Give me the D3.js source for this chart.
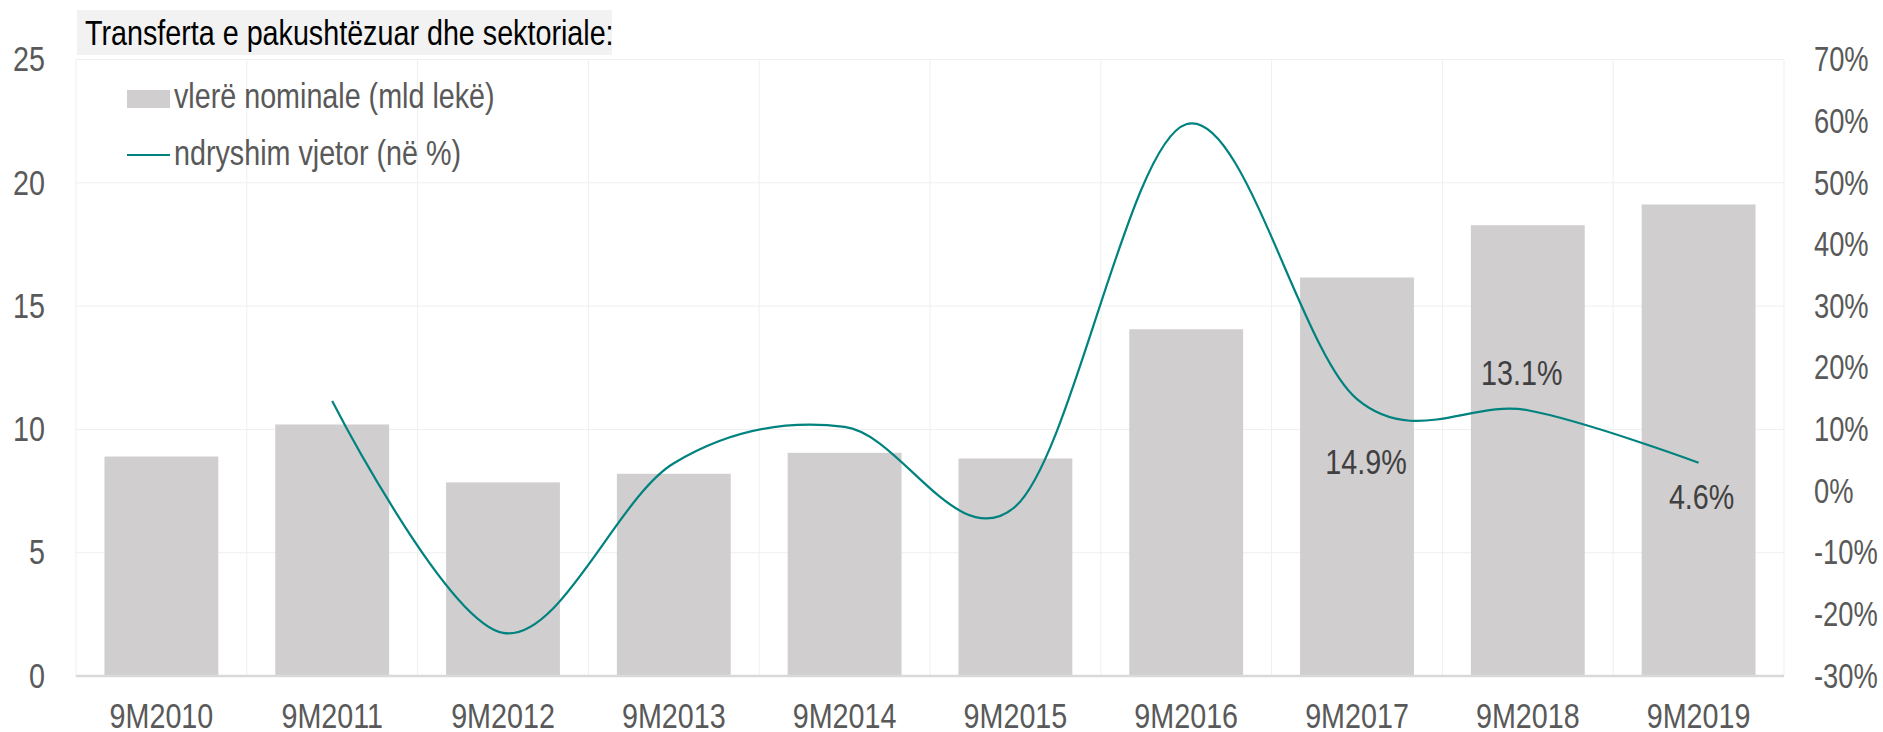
<!DOCTYPE html>
<html>
<head>
<meta charset="utf-8">
<script src="https://cdn.jsdelivr.net/npm/d3@7"></script>
<style>
  body { margin: 0; background: #fff; }
  svg text { font-family: "Liberation Sans", Arial, sans-serif; font-size: 35px; }
</style>
</head>
<body>
<svg id="chart" width="1883" height="732"></svg>
<script>
const categories = ["9M2010", "9M2011", "9M2012", "9M2013", "9M2014", "9M2015", "9M2016", "9M2017", "9M2018", "9M2019"];
const nominal = [8.9, 10.2, 7.85, 8.2, 9.05, 8.82, 14.06, 16.16, 18.28, 19.12];
// annual change (%), starts at 9M2011
const change = [null, 14.6, -23.0, 4.5, 10.4, -2.5, 59.5, 14.9, 13.1, 4.6];
const leftTicks = [0, 5, 10, 15, 20, 25];
const rightTicks = [-30, -20, -10, 0, 10, 20, 30, 40, 50, 60, 70];
const labelled = ["9M2017", "9M2018", "9M2019"];

const svg = d3.select("#chart");
const plotLeft = 76, plotRight = 1784, plotTop = 59.5, plotBottom = 676;

// no narrow font installed: squeeze Liberation Sans to Arial Narrow width
const narrow = (sel, k = 0.82) => sel.each(function () {
    const w = this.getComputedTextLength();
    this.setAttribute("textLength", w * k);
    this.setAttribute("lengthAdjust", "spacingAndGlyphs");
});

const x = d3.scaleBand()
    .domain(categories)
    .range([plotLeft, plotRight])
    .paddingInner(1 / 3)
    .paddingOuter(1 / 6);
const step = x.step();

const y = d3.scaleLinear().domain([0, 25]).range([plotBottom, plotTop]);
const y2 = d3.scaleLinear().domain([-30, 70]).range([plotBottom, plotTop]);

// grid
const grid = svg.append("g");
grid.selectAll("line.h")
    .data(leftTicks.slice(1))
    .enter().append("line")
    .attr("x1", plotLeft).attr("x2", plotRight)
    .attr("y1", d => y(d)).attr("y2", d => y(d))
    .style("stroke", "#efefef").style("stroke-width", 1);
grid.selectAll("line.v")
    .data(d3.range(categories.length + 1))
    .enter().append("line")
    .attr("x1", i => plotLeft + i * step).attr("x2", i => plotLeft + i * step)
    .attr("y1", plotTop).attr("y2", plotBottom)
    .style("stroke", "#efefef").style("stroke-width", 1);

// bars
svg.append("g").selectAll("rect")
    .data(categories)
    .enter().append("rect")
    .attr("x", d => x(d))
    .attr("width", x.bandwidth())
    .attr("y", (d, i) => y(nominal[i]))
    .attr("height", (d, i) => plotBottom - y(nominal[i]))
    .style("fill", "#d0cecf");

// baseline
svg.append("line")
    .attr("x1", plotLeft).attr("x2", plotRight)
    .attr("y1", plotBottom).attr("y2", plotBottom)
    .style("stroke", "#d9d9d9").style("stroke-width", 2.5);

// left axis
const leftAxis = svg.append("g")
    .attr("transform", `translate(45,0)`)
    .call(d3.axisLeft(y).tickValues(leftTicks).tickSize(0).tickPadding(0));
leftAxis.select(".domain").remove();
leftAxis.selectAll("text")
    .style("font-size", "35px").style("fill", "#595959")
    .call(narrow);

// right axis
const rightAxis = svg.append("g")
    .attr("transform", `translate(1814,0)`)
    .call(d3.axisRight(y2).tickValues(rightTicks).tickSize(0).tickPadding(0).tickFormat(d => d + "%"));
rightAxis.select(".domain").remove();
rightAxis.selectAll("text")
    .style("font-size", "35px").style("fill", "#595959")
    .call(narrow, 0.78);

// bottom axis
const bottomAxis = svg.append("g")
    .attr("transform", `translate(0,${plotBottom})`)
    .call(d3.axisBottom(x).tickSize(0).tickPadding(0));
bottomAxis.select(".domain").remove();
bottomAxis.selectAll("text")
    .attr("dy", null)
    .attr("y", 52)
    .style("font-size", "35px").style("fill", "#595959")
    .call(narrow);
svg.selectAll(".tick text").style("font-family", "'Liberation Sans', Arial, sans-serif");

// line
const lineData = categories.map((c, i) => ({ c, v: change[i] })).filter(d => d.v !== null);
const line = d3.line()
    .x(d => x(d.c) + x.bandwidth() / 2)
    .y(d => y2(d.v))
    .curve(d3.curveCardinal.tension(0));
svg.append("path")
    .datum(lineData)
    .attr("d", line)
    .style("fill", "none")
    .style("stroke", "#00827f")
    .style("stroke-width", 2.2);

// data labels (offsets from the point, as Excel placed them)
const labelOffset = { "9M2017": [9, 75], "9M2018": [-6, -25], "9M2019": [3, 46] };
svg.append("g").selectAll("text")
    .data(labelled)
    .enter().append("text")
    .attr("x", d => x(d) + x.bandwidth() / 2 + labelOffset[d][0])
    .attr("y", d => y2(change[categories.indexOf(d)]) + labelOffset[d][1])
    .attr("text-anchor", "middle")
    .style("fill", "#404040")
    .text(d => d3.format(".1f")(change[categories.indexOf(d)]) + "%")
    .call(narrow);

// title
svg.append("rect")
    .attr("x", 77).attr("y", 10)
    .attr("width", 535).attr("height", 45)
    .style("fill", "#f2f2f2");
svg.append("text")
    .attr("x", 85).attr("y", 45)
    .style("fill", "#000")
    .text("Transferta e pakushtëzuar dhe sektoriale:")
    .call(narrow);

// legend
const legend = svg.append("g");
legend.append("rect")
    .attr("x", 127).attr("y", 90)
    .attr("width", 43).attr("height", 18)
    .style("fill", "#d0cecf");
legend.append("text")
    .attr("x", 174).attr("y", 108)
    .style("fill", "#595959")
    .text("vlerë nominale (mld lekë)")
    .call(narrow);
legend.append("line")
    .attr("x1", 127).attr("x2", 170)
    .attr("y1", 155).attr("y2", 155)
    .style("stroke", "#00827f").style("stroke-width", 2.2);
legend.append("text")
    .attr("x", 174).attr("y", 165)
    .style("fill", "#595959")
    .text("ndryshim vjetor (në %)")
    .call(narrow);
</script>
</body>
</html>
